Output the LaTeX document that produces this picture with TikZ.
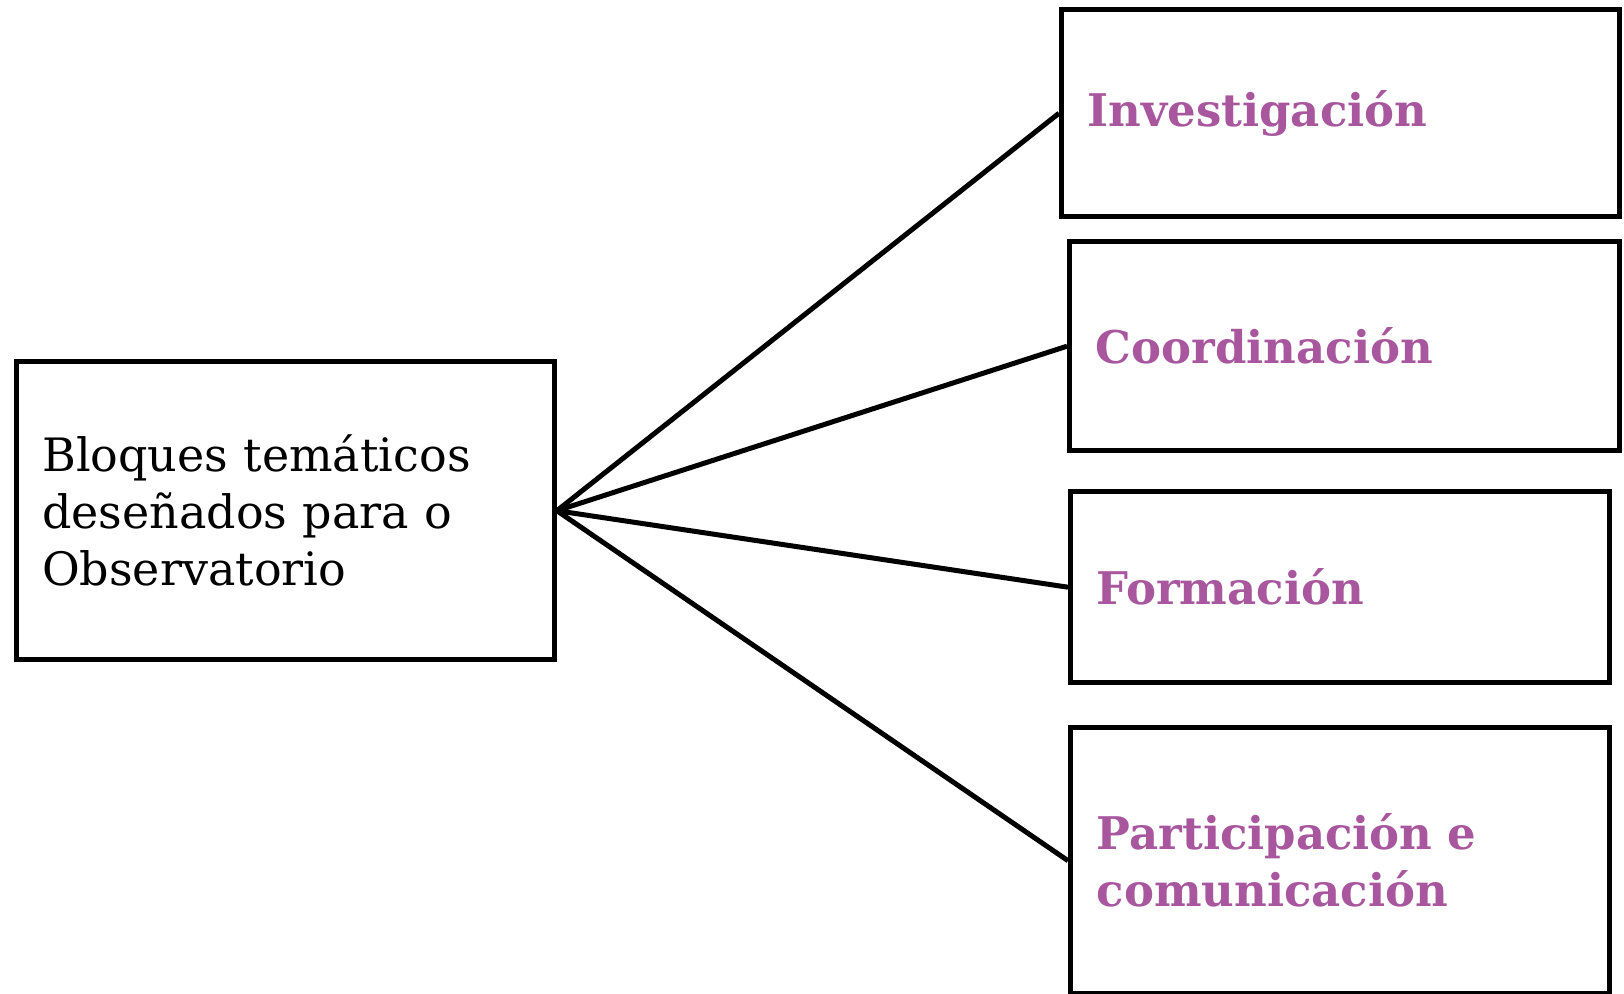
\documentclass[tikz,border=0pt]{standalone}
\usepackage{fontspec}
\setmainfont{DejaVu Serif}
\usepackage{xcolor}
\usepackage{tikz}
\definecolor{morado}{HTML}{A8569E}

\begin{document}
\begin{tikzpicture}[x=0.5pt, y=-0.5pt]
        \useasboundingbox (0,0) rectangle (1624,993);
        % Definisci i nodi
        \node[draw, rectangle, line width=2.7pt, anchor=north west, minimum width=269pt, minimum height=149pt, inner sep=13pt, text width=243pt, align=left, font=\fontsize{23}{28.5}\selectfont] (bloques) at (13.5,359) {Bloques temáticos\\ deseñados para o\\ Observatorio};
        \node[draw, rectangle, line width=2.7pt, anchor=north west, minimum width=279pt, minimum height=103.5pt, inner sep=13pt, text width=253pt, align=left, text=morado, font=\fontsize{22.5}{28.5}\selectfont\bfseries] (investigacion) at (1059,7) {Investigación};
        \node[draw, rectangle, line width=2.7pt, anchor=north west, minimum width=275pt, minimum height=104.5pt, inner sep=13pt, text width=249pt, align=left, text=morado, font=\fontsize{22.5}{28.5}\selectfont\bfseries] (coordinacion) at (1067,239) {Coordinación};
        \node[draw, rectangle, line width=2.7pt, anchor=north west, minimum width=269.5pt, minimum height=95.5pt, inner sep=13pt, text width=243.5pt, align=left, text=morado, font=\fontsize{22.5}{28.5}\selectfont\bfseries] (formacion) at (1068,489) {Formación};
        \node[draw, rectangle, line width=2.7pt, anchor=north west, minimum width=269.5pt, minimum height=133pt, inner sep=13pt, text width=243.5pt, align=left, text=morado, font=\fontsize{22.5}{28.5}\selectfont\bfseries] (participacion) at (1068,725) {Participación e\\ comunicación};

        % Disegna le linee
        \draw[line width=2.5pt] (bloques.east) -- (investigacion.west);
        \draw[line width=2.5pt] (bloques.east) -- (coordinacion.west);
        \draw[line width=2.5pt] (bloques.east) -- (formacion.west);
        \draw[line width=2.5pt] (bloques.east) -- (participacion.west);
\end{tikzpicture}
\end{document}
